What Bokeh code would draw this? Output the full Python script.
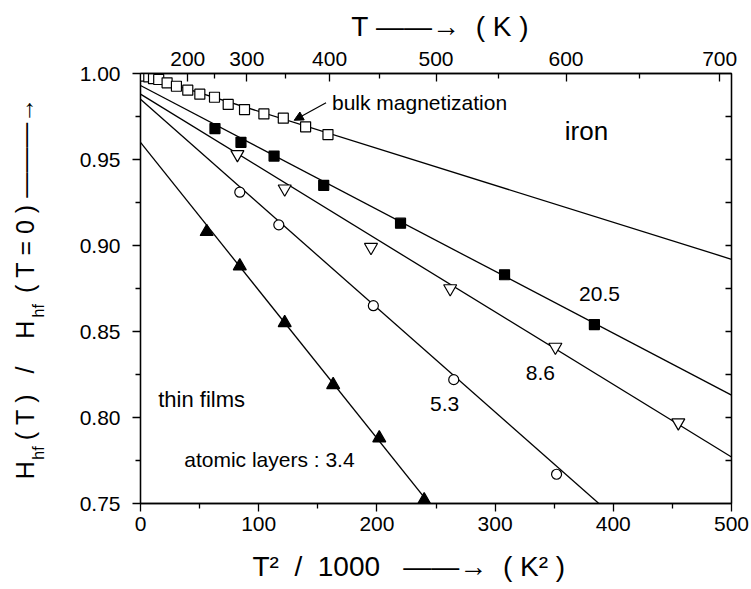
from bokeh.plotting import figure
from bokeh.models import (LinearAxis, FixedTicker, Range1d, Label, Arrow,
                          NormalHead, PrintfTickFormatter)
from bokeh.embed import file_html
from bokeh.resources import INLINE

# ---------------- data ----------------
bulk_x = [3, 7, 11, 15.4, 22.5, 30.4, 40, 50.2, 62.6, 74.2, 88, 104.4, 120.8, 139.7, 158.6]
bulk_y = [0.9985, 0.998, 0.997, 0.9965, 0.9946, 0.9926, 0.9903, 0.988, 0.9862,
          0.982, 0.979, 0.9765, 0.974, 0.969, 0.9645]

l205_x = [63, 85, 113, 155, 220, 308, 384]
l205_y = [0.968, 0.960, 0.952, 0.935, 0.913, 0.883, 0.854]

l86_x = [82, 122, 195, 262, 351, 455]
l86_y = [0.953, 0.933, 0.899, 0.875, 0.841, 0.797]

l53_x = [84, 117, 197, 265, 352]
l53_y = [0.931, 0.912, 0.865, 0.822, 0.767]

l34_x = [56, 84, 122, 163, 202, 240]
l34_y = [0.908, 0.888, 0.855, 0.819, 0.788, 0.752]

# fitted straight lines: value at x = 0 and at x = 500
fit_y0 = [0.9995, 0.993, 0.988, 0.985, 0.960]
fit_y500 = [0.892, 0.813, 0.777, 0.682, 0.530]
fit_x = [0, 500]

bottom_ticks = [0, 100, 200, 300, 400, 500]
bottom_minor = [50, 150, 250, 350, 450]
left_ticks = [0.75, 0.80, 0.85, 0.90, 0.95, 1.00]
left_minor = [0.775, 0.825, 0.875, 0.925, 0.975]
right_ticks = [0.775, 0.80, 0.825, 0.85, 0.875, 0.90, 0.925, 0.95, 0.975]
top_labels = ["200", "300", "400", "500", "600", "700"]
top_pos = [40, 90, 160, 250, 360, 490]          # T^2/1000 for the T labels
top_minor = [62.5, 122.5, 202.5, 302.5, 422.5]

FONT = "Liberation Sans"
N = "\u00a0"

p = figure(width=751, height=589, output_backend="svg", toolbar_location=None,
           x_range=Range1d(0, 500), y_range=Range1d(0.75, 1.0),
           min_border_left=140, min_border_right=20, min_border_top=73,
           min_border_bottom=86)
p.grid.visible = False
p.outline_line_color = "black"
p.outline_line_width = 1.3
p.background_fill_color = "white"
p.border_fill_color = "white"


def style_axis(ax, tin, tout, mtin, mtout, fs="21px"):
    ax.axis_line_width = 1.3
    ax.axis_line_color = "black"
    ax.major_tick_line_width = 1.3
    ax.minor_tick_line_width = 1.3
    ax.major_tick_line_color = "black"
    ax.minor_tick_line_color = "black"
    ax.major_tick_in = tin
    ax.major_tick_out = tout
    ax.minor_tick_in = mtin
    ax.minor_tick_out = mtout
    ax.major_label_text_font = FONT
    ax.major_label_text_font_size = fs
    ax.major_label_text_color = "black"
    ax.axis_label_text_font = FONT
    ax.axis_label_text_font_style = "normal"
    ax.axis_label_text_color = "black"


# bottom axis
xa = p.xaxis[0]
xa.ticker = FixedTicker(ticks=bottom_ticks, minor_ticks=bottom_minor)
style_axis(xa, 0, 8, 0, 5)
xa.major_label_standoff = 5
xa.axis_label = ("T\u00b2" + N * 2 + "/" + N * 2 + "1000" + N * 3 + "\u2014\u2014\u2192" + N * 2
                 + "(" + N + "K\u00b2" + N + ")" + N * 7)
xa.axis_label_text_font_size = "28px"
xa.axis_label_standoff = 17

# left axis (tick labels + the subscripts of the title)
ya = p.yaxis[0]
ya.ticker = FixedTicker(ticks=left_ticks, minor_ticks=left_minor)
ya.formatter = PrintfTickFormatter(format="%.2f")
style_axis(ya, 0, 8, 0, 5)
ya.major_label_standoff = 12
ya.axis_label = "hf" + N * 29 + "hf" + N * 42
ya.axis_label_text_font_size = "16px"
ya.axis_label_standoff = 30

# outer left axis: main part of the y title
ya2 = LinearAxis(ticker=FixedTicker(ticks=[]))
style_axis(ya2, 0, 0, 0, 0, fs="0px")
ya2.axis_line_color = None
ya2.major_label_standoff = 0
ya2.axis_label = ("H" + N * 3 + "(" + N + "T" + N + ")" + N * 3 + "/" + N * 4 + "H" + N * 4
                  + "(" + N + "T" + N + "=" + N + "0" + N + ")" + N
                  + "\u2014\u2014\u2014\u2192")
ya2.axis_label_text_font_size = "25px"
ya2.axis_label_standoff = -12
p.add_layout(ya2, "left")

# top axis: temperature
top = LinearAxis(ticker=FixedTicker(ticks=top_pos, minor_ticks=top_minor),
                 major_label_overrides={t: s for t, s in zip(top_pos, top_labels)})
style_axis(top, 8, 0, 5, 0)
top.major_label_standoff = 8
top.axis_label = (N + "T" + N + "\u2014\u2014\u2192" + N * 2 + "(" + N + "K" + N + ")")
top.axis_label_text_font_size = "28px"
top.axis_label_standoff = 7
p.add_layout(top, "above")

# right axis: ticks only (no labels)
right = LinearAxis(ticker=FixedTicker(ticks=[], minor_ticks=right_ticks))
style_axis(right, 0, 0, 6, 0)
right.major_label_standoff = 0
p.add_layout(right, "right")

# fitted lines
for y0, y1 in zip(fit_y0, fit_y500):
    p.line(fit_x, [y0, y1], line_color="black", line_width=1.3)

mk = dict(line_color="black", line_width=1.2)
p.scatter(bulk_x, bulk_y, marker="square", size=10, fill_color="white", **mk)
p.scatter(l205_x, l205_y, marker="square", size=10, fill_color="black", **mk)
p.scatter(l86_x, l86_y, marker="inverted_triangle", size=13, fill_color="white", **mk)
p.scatter(l53_x, l53_y, marker="circle", size=10, fill_color="white", **mk)
p.scatter(l34_x, l34_y, marker="triangle", size=13, fill_color="black", **mk)


def dlabel(text, x, y, size):
    p.add_layout(Label(x=x, y=y, text=text, text_font=FONT,
                       text_font_size=f"{size}px", text_align="left",
                       text_baseline="middle", text_color="black"))


dlabel("bulk magnetization", 162, 0.9832, 21)
dlabel("iron", 359, 0.9666, 26)
dlabel("20.5", 371, 0.872, 21)
dlabel("8.6", 326, 0.8257, 21)
dlabel("5.3", 245, 0.8076, 21)
dlabel("thin films", 15, 0.8105, 22)
dlabel("atomic layers : 3.4", 37, 0.7754, 21)

p.add_layout(Arrow(x_start=157, y_start=0.983, x_end=130, y_end=0.9728,
                   line_width=1.2, line_color="black",
                   end=NormalHead(size=9, fill_color="black", line_color="black")))

open("out.html", "w").write(file_html(p, INLINE))
